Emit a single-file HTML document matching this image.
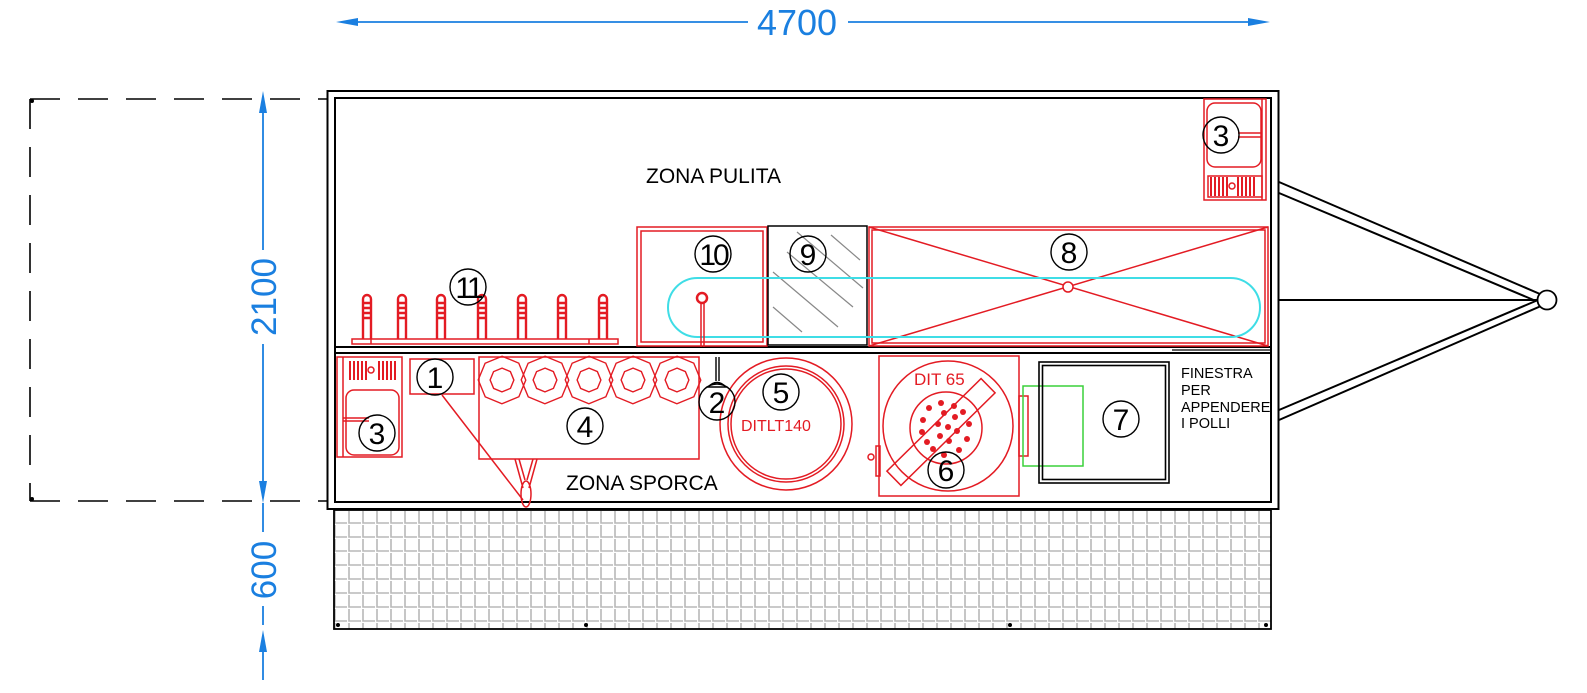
<!DOCTYPE html>
<html><head><meta charset="utf-8"><style>
html,body{margin:0;padding:0;background:#fff;}
svg{display:block;}
text{font-family:"Liberation Sans",sans-serif;}
</style></head><body>
<svg width="1587" height="693" viewBox="0 0 1587 693" xmlns="http://www.w3.org/2000/svg">
<defs>
<pattern id="g" x="333" y="510" width="14" height="14" patternUnits="userSpaceOnUse">
<path d="M2 1 V13 H14" fill="none" stroke="#b8b8b8" stroke-width="1.6"/>
</pattern>
</defs>

<!-- dimensions -->
<g stroke="#1a7fe0" fill="#1a7fe0" stroke-width="1.8">
<line x1="345" y1="22" x2="748" y2="22"/><line x1="848" y1="22" x2="1262" y2="22"/>
<polygon points="336,22 358,18 358,26" stroke="none"/>
<polygon points="1270,22 1248,18 1248,26" stroke="none"/>
<line x1="263" y1="98" x2="263" y2="250"/><line x1="263" y1="344" x2="263" y2="495"/>
<polygon points="263,91 259,113 267,113" stroke="none"/>
<polygon points="263,503 259,481 267,481" stroke="none"/>
<line x1="263" y1="503" x2="263" y2="532"/><line x1="263" y1="606" x2="263" y2="625"/>
<line x1="263" y1="640" x2="263" y2="680"/>
<polygon points="263,630 259,652 267,652" stroke="none"/>
</g>
<text x="797" y="35" font-size="36" fill="#1a7fe0" text-anchor="middle">4700</text>
<text transform="translate(276,297) rotate(-90)" font-size="35" fill="#1a7fe0" text-anchor="middle">2100</text>
<text transform="translate(276,570) rotate(-90)" font-size="35" fill="#1a7fe0" text-anchor="middle">600</text>

<!-- dashed outline -->
<g stroke="#000" stroke-width="1.6" stroke-dasharray="30,18" fill="none">
<line x1="30" y1="99" x2="327" y2="99"/>
<line x1="30" y1="501" x2="327" y2="501"/>
<line x1="30" y1="99" x2="30" y2="501"/>
</g>
<circle cx="32" cy="101" r="2"/><circle cx="32" cy="499" r="2"/>

<!-- grid platform -->
<rect x="334" y="510" width="937" height="119" fill="url(#g)" stroke="#000" stroke-width="1.8"/>
<circle cx="338" cy="625" r="2"/><circle cx="586" cy="625" r="2"/><circle cx="1010" cy="625" r="2"/><circle cx="1266" cy="625" r="2"/>

<!-- trailer body -->
<rect x="327.5" y="91" width="951" height="418" fill="#fff" stroke="#000" stroke-width="2"/>
<rect x="335" y="98" width="936" height="404" fill="none" stroke="#000" stroke-width="2"/>
<line x1="335" y1="347" x2="1271" y2="347" stroke="#000" stroke-width="2"/>
<line x1="335" y1="353" x2="1271" y2="353" stroke="#000" stroke-width="2"/>
<line x1="1172" y1="350" x2="1271" y2="350" stroke="#000" stroke-width="1.2"/>

<!-- tow -->
<g stroke="#000" stroke-width="2" fill="none">
<line x1="1279" y1="182" x2="1540" y2="294"/>
<line x1="1279" y1="193" x2="1536" y2="301"/>
<line x1="1279" y1="300" x2="1538" y2="300"/>
<line x1="1279" y1="410" x2="1538" y2="300"/>
<line x1="1279" y1="420" x2="1541" y2="306"/>
</g>
<circle cx="1547" cy="300" r="9.5" fill="#fff" stroke="#000" stroke-width="1.8"/>

<text x="646" y="183" font-size="21" fill="#000">ZONA PULITA</text>
<text x="566" y="490" font-size="21" fill="#000">ZONA SPORCA</text>

<g fill="none" stroke="#e31b23" stroke-width="1.5">
<rect x="1204" y="99" width="62" height="101"/>
<line x1="1262" y1="99" x2="1262" y2="200"/>
<rect x="1207" y="103" width="54" height="64" rx="8"/>
<rect x="1208" y="176" width="54" height="21"/>
<line x1="1238" y1="133" x2="1262" y2="133"/><line x1="1238" y1="137" x2="1262" y2="137"/>
<rect x="637" y="227" width="130" height="119"/>
<rect x="641" y="231" width="122" height="111"/>
<rect x="869" y="227" width="399" height="119"/>
<rect x="872" y="230" width="393" height="113"/>
<line x1="869" y1="227" x2="1268" y2="346"/><line x1="869" y1="346" x2="1268" y2="227"/>
<rect x="352" y="339" width="266" height="5"/>
<line x1="371" y1="339" x2="371" y2="344"/><line x1="589" y1="339" x2="589" y2="344"/>
<rect x="337" y="357" width="65" height="100"/>
<line x1="343" y1="357" x2="343" y2="457"/>
<rect x="346" y="390" width="53" height="65" rx="8"/>
<line x1="343" y1="418" x2="369" y2="418"/><line x1="343" y1="421" x2="369" y2="421"/>
<rect x="410" y="359" width="64" height="35"/>
<line x1="442" y1="395" x2="523" y2="500"/>
<path d="M515 459 L523 488 M537 459 L529 488 M519 459 L525 480 M533 459 L527 480"/>
<ellipse cx="526" cy="494" rx="5" ry="13"/>
<rect x="479" y="357" width="220" height="102"/>
<circle cx="786" cy="424" r="66"/>
<circle cx="786" cy="424" r="58"/>
<circle cx="786" cy="424" r="55"/>
<rect x="879" y="356" width="140" height="140"/>
<circle cx="948" cy="426" r="65"/>
<circle cx="946" cy="428" r="36"/>
<rect x="876" y="446" width="4" height="30"/>
<circle cx="871" cy="457" r="3"/>
<rect x="1019" y="396" width="9" height="60"/>
<rect x="-66" y="-10" width="132" height="20" transform="translate(941,432) rotate(-44.5)"/>
</g>
<g fill="#e31b23">
<rect x="1210" y="177" width="2" height="19"/><rect x="1214" y="177" width="2" height="19"/><rect x="1218" y="177" width="2" height="19"/><rect x="1222" y="177" width="2" height="19"/><rect x="1226" y="177" width="2" height="19"/>
<rect x="1237" y="177" width="2" height="19"/><rect x="1241" y="177" width="2" height="19"/><rect x="1245" y="177" width="2" height="19"/><rect x="1249" y="177" width="2" height="19"/><rect x="1253" y="177" width="2" height="19"/>
<rect x="349" y="361" width="2" height="19"/><rect x="353" y="361" width="2" height="19"/><rect x="357" y="361" width="2" height="19"/><rect x="361" y="361" width="2" height="19"/><rect x="365" y="361" width="2" height="19"/>
<rect x="378" y="361" width="2" height="19"/><rect x="382" y="361" width="2" height="19"/><rect x="386" y="361" width="2" height="19"/><rect x="390" y="361" width="2" height="19"/><rect x="394" y="361" width="2" height="19"/>
</g>
<circle cx="1232" cy="186" r="3" fill="none" stroke="#e31b23" stroke-width="1.5"/>
<circle cx="371" cy="370" r="3" fill="none" stroke="#e31b23" stroke-width="1.5"/>

<!-- rack posts -->
<g fill="none" stroke="#e31b23" stroke-width="2.4">
<path d="M363 339 V299 a4 4 0 0 1 8 0 V339 M363 303h8M363 308h8M363 313h8M363 318h8"/>
<path d="M398 339 V299 a4 4 0 0 1 8 0 V339 M398 303h8M398 308h8M398 313h8M398 318h8"/>
<path d="M437 339 V299 a4 4 0 0 1 8 0 V339 M437 303h8M437 308h8M437 313h8M437 318h8"/>
<path d="M478 339 V299 a4 4 0 0 1 8 0 V339 M478 303h8M478 308h8M478 313h8M478 318h8"/>
<path d="M518 339 V299 a4 4 0 0 1 8 0 V339 M518 303h8M518 308h8M518 313h8M518 318h8"/>
<path d="M558 339 V299 a4 4 0 0 1 8 0 V339 M558 303h8M558 308h8M558 313h8M558 318h8"/>
<path d="M599 339 V299 a4 4 0 0 1 8 0 V339 M599 303h8M599 308h8M599 313h8M599 318h8"/>
</g>

<g fill="none" stroke="#e31b23" stroke-width="1.4">
<g transform="translate(502,380)"><polygon points="9,-22 22,-9 22,9 9,22 -9,22 -22,9 -22,-9 -9,-22" transform="rotate(22.5)"/><polygon points="4.5,-11 11,-4.5 11,4.5 4.5,11 -4.5,11 -11,4.5 -11,-4.5 -4.5,-11" transform="rotate(22.5)"/></g>
<g transform="translate(545,380)"><polygon points="9,-22 22,-9 22,9 9,22 -9,22 -22,9 -22,-9 -9,-22" transform="rotate(22.5)"/><polygon points="4.5,-11 11,-4.5 11,4.5 4.5,11 -4.5,11 -11,4.5 -11,-4.5 -4.5,-11" transform="rotate(22.5)"/></g>
<g transform="translate(589,380)"><polygon points="9,-22 22,-9 22,9 9,22 -9,22 -22,9 -22,-9 -9,-22" transform="rotate(22.5)"/><polygon points="4.5,-11 11,-4.5 11,4.5 4.5,11 -4.5,11 -11,4.5 -11,-4.5 -4.5,-11" transform="rotate(22.5)"/></g>
<g transform="translate(633,380)"><polygon points="9,-22 22,-9 22,9 9,22 -9,22 -22,9 -22,-9 -9,-22" transform="rotate(22.5)"/><polygon points="4.5,-11 11,-4.5 11,4.5 4.5,11 -4.5,11 -11,4.5 -11,-4.5 -4.5,-11" transform="rotate(22.5)"/></g>
<g transform="translate(677,380)"><polygon points="9,-22 22,-9 22,9 9,22 -9,22 -22,9 -22,-9 -9,-22" transform="rotate(22.5)"/><polygon points="4.5,-11 11,-4.5 11,4.5 4.5,11 -4.5,11 -11,4.5 -11,-4.5 -4.5,-11" transform="rotate(22.5)"/></g>
</g>

<g fill="#e31b23">
<circle cx="929" cy="408" r="3"/><circle cx="941" cy="403" r="3"/><circle cx="954" cy="406" r="3"/><circle cx="963" cy="412" r="3"/><circle cx="944" cy="413" r="3"/>
<circle cx="923" cy="420" r="3"/><circle cx="955" cy="417" r="3"/><circle cx="969" cy="424" r="3"/><circle cx="938" cy="424" r="3"/><circle cx="948" cy="427" r="3"/>
<circle cx="922" cy="432" r="3"/><circle cx="957" cy="431" r="3"/><circle cx="940" cy="436" r="3"/><circle cx="967" cy="439" r="3"/><circle cx="927" cy="442" r="3"/>
<circle cx="949" cy="441" r="3"/><circle cx="933" cy="449" r="3"/><circle cx="959" cy="450" r="3"/><circle cx="944" cy="455" r="3"/>
</g>
<text x="914" y="385" font-size="17" fill="#e31b23">DIT 65</text>
<text x="741" y="431" font-size="16" fill="#e31b23">DITLT140</text>

<rect x="768" y="226" width="99" height="119" fill="none" stroke="#000" stroke-width="1.5"/>
<g stroke="#888" stroke-width="1.2">
<line x1="831" y1="235" x2="860" y2="260"/><line x1="797" y1="232" x2="863" y2="288"/>
<line x1="787" y1="252" x2="853" y2="307"/><line x1="773" y1="272" x2="838" y2="327"/>
<line x1="773" y1="307" x2="802" y2="332"/>
</g>
<rect x="668" y="278" width="592" height="59" rx="29.5" fill="none" stroke="#3fdde6" stroke-width="2"/>
<circle cx="702" cy="298" r="5" fill="none" stroke="#e31b23" stroke-width="2.5"/>
<line x1="701" y1="303" x2="701" y2="347" stroke="#e31b23" stroke-width="1.5"/><line x1="704" y1="303" x2="704" y2="347" stroke="#e31b23" stroke-width="1.5"/>
<circle cx="1068" cy="287" r="5" fill="#fff" stroke="#e31b23" stroke-width="1.5"/>

<rect x="1023" y="386" width="60" height="80" fill="none" stroke="#3ad13a" stroke-width="1.5"/>
<rect x="1039" y="362" width="130" height="121" fill="none" stroke="#000" stroke-width="1.6"/>
<rect x="1042.5" y="365.5" width="123" height="114" fill="none" stroke="#000" stroke-width="1.6"/>
<g font-size="14.5" fill="#000">
<text x="1181" y="378">FINESTRA</text><text x="1181" y="395">PER</text>
<text x="1181" y="412">APPENDERE</text><text x="1181" y="428">I POLLI</text>
</g>

<g stroke="#000" stroke-width="1.4" fill="none">
<line x1="716" y1="357" x2="716" y2="381"/><line x1="719" y1="357" x2="719" y2="381"/>
<path d="M708 387 Q717 378 726 387 Z"/>
</g>

<g fill="none" stroke="#000" stroke-width="1.4">
<circle cx="1221" cy="135" r="18"/><circle cx="713" cy="254" r="18"/><circle cx="808" cy="254" r="18"/>
<circle cx="1069" cy="252" r="18"/><circle cx="468" cy="287" r="18"/><circle cx="435" cy="377" r="18"/>
<circle cx="377" cy="433" r="18"/><circle cx="585" cy="426" r="18"/><circle cx="717" cy="402" r="18"/>
<circle cx="781" cy="392" r="18"/><circle cx="946" cy="470" r="18"/><circle cx="1121" cy="419" r="18"/>
</g>
<g font-size="30" fill="#000" text-anchor="middle">
<text x="1221" y="146">3</text><text x="713" y="265" letter-spacing="-3">10</text><text x="808" y="265">9</text>
<text x="1069" y="263">8</text><text x="468" y="298" letter-spacing="-3">11</text><text x="435" y="388">1</text>
<text x="377" y="444">3</text><text x="585" y="437">4</text><text x="717" y="413">2</text>
<text x="781" y="403">5</text><text x="946" y="481">6</text><text x="1121" y="430">7</text>
</g>
</svg>
</body></html>
